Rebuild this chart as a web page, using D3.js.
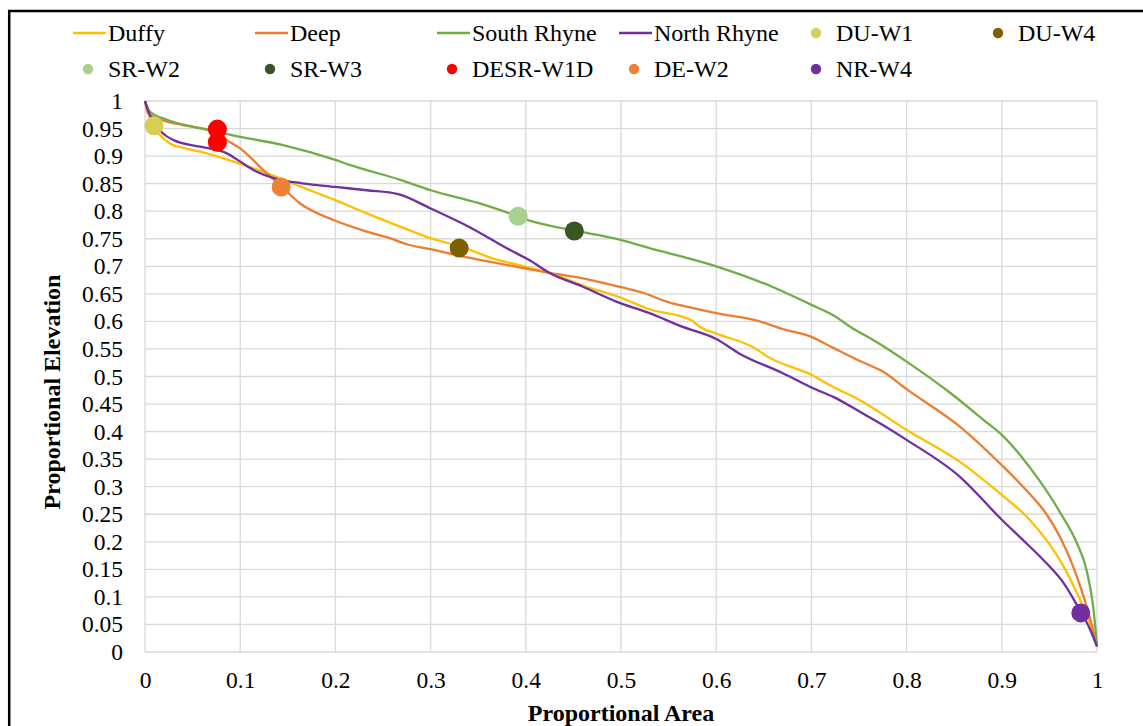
<!DOCTYPE html>
<html>
<head>
<meta charset="utf-8">
<script src="https://cdn.jsdelivr.net/npm/d3@7"></script>
<style>
  body { margin: 0; background: #fff; }
  svg { display: block; font-family: "Liberation Serif", "Times New Roman", serif; }
  .grid line { stroke: #d9d9d9; stroke-width: 1.3; }
  .tick-label { font-size: 23.5px; fill: #000; font-family: "Liberation Serif", "Times New Roman", serif; }
  .legend-text { font-size: 24px; fill: #000; }
  .axis-title { font-size: 24px; font-weight: bold; fill: #000; }
</style>
</head>
<body>
<script>
// Chart size and plot area
const CHART = {
    width: 1143,
    height: 726,
    margin: { top: 101, right: 46, bottom: 74, left: 145 }
};

// Tick values
const xTicks = [0, 0.1, 0.2, 0.3, 0.4, 0.5, 0.6, 0.7, 0.8, 0.9, 1];
const yTicks = d3.range(0, 21).map(i => +(i * 0.05).toFixed(2));

// Hypsometric curves: [proportional area, proportional elevation]
const duffy = [[0,1],[0.005,0.97],[0.016,0.938],[0.026,0.923],[0.04,0.915],[0.058,0.908],[0.093,0.89],
    [0.128,0.869],[0.163,0.845],[0.2,0.82],[0.233,0.796],[0.268,0.772],[0.3,0.751],[0.331,0.736],
    [0.366,0.714],[0.4,0.699],[0.425,0.688],[0.46,0.665],[0.5,0.643],[0.53,0.622],[0.573,0.603],
    [0.583,0.59],[0.6,0.578],[0.641,0.551],[0.653,0.537],[0.7,0.503],[0.723,0.481],[0.751,0.457],
    [0.8,0.403],[0.856,0.345],[0.9,0.285],[0.926,0.246],[0.947,0.203],[0.965,0.155],[0.979,0.107],
    [0.987,0.076],[0.996,0.034],[1,0.01]];

const deep = [[0,1],[0.003,0.978],[0.012,0.969],[0.04,0.956],[0.075,0.944],[0.086,0.929],[0.1,0.914],
    [0.11,0.899],[0.124,0.875],[0.142,0.847],[0.163,0.814],[0.198,0.784],[0.233,0.763],[0.257,0.751],
    [0.275,0.74],[0.3,0.731],[0.331,0.719],[0.366,0.707],[0.4,0.696],[0.425,0.688],[0.46,0.678],
    [0.5,0.662],[0.523,0.652],[0.548,0.636],[0.576,0.624],[0.6,0.615],[0.642,0.602],[0.67,0.586],
    [0.7,0.572],[0.723,0.552],[0.751,0.528],[0.775,0.509],[0.8,0.477],[0.856,0.409],[0.9,0.339],
    [0.926,0.293],[0.947,0.25],[0.961,0.209],[0.975,0.155],[0.986,0.1],[0.995,0.046],[1,0.01]];

const southRhyne = [[0,1],[0.005,0.981],[0.023,0.966],[0.051,0.953],[0.075,0.944],[0.1,0.935],
    [0.145,0.92],[0.2,0.893],[0.215,0.884],[0.268,0.857],[0.3,0.838],[0.35,0.815],[0.383,0.796],
    [0.404,0.783],[0.451,0.765],[0.492,0.751],[0.53,0.733],[0.6,0.7],[0.66,0.662],[0.7,0.63],
    [0.723,0.611],[0.741,0.59],[0.768,0.563],[0.8,0.527],[0.846,0.47],[0.881,0.421],[0.9,0.394],
    [0.919,0.358],[0.94,0.31],[0.961,0.254],[0.979,0.197],[0.989,0.149],[0.996,0.082],[1,0.012]];

const northRhyne = [[0,1],[0.005,0.975],[0.019,0.941],[0.03,0.929],[0.058,0.917],[0.086,0.905],
    [0.1,0.89],[0.117,0.872],[0.142,0.857],[0.163,0.851],[0.2,0.844],[0.233,0.838],[0.266,0.831],
    [0.3,0.805],[0.341,0.771],[0.383,0.73],[0.404,0.711],[0.425,0.688],[0.46,0.663],[0.495,0.636],
    [0.53,0.615],[0.565,0.59],[0.6,0.568],[0.625,0.541],[0.67,0.506],[0.7,0.48],[0.723,0.463],
    [0.751,0.436],[0.775,0.412],[0.8,0.385],[0.856,0.318],[0.9,0.24],[0.926,0.197],[0.947,0.161],
    [0.965,0.125],[0.979,0.085],[0.993,0.04],[1,0.01]];

// Well locations
const duW1 = [[0.0095, 0.955]];
const duW4 = [[0.33, 0.733]];
const srW2 = [[0.392, 0.791]];
const srW3 = [[0.451, 0.764]];
const desrW1D = [[0.076, 0.949], [0.076, 0.925]];
const deW2 = [[0.143, 0.844]];
const nrW4 = [[0.983, 0.071]];

const lineSeries = [
    { name: "Duffy", data: duffy, color: "#FFC000" },
    { name: "Deep", data: deep, color: "#ED7D31" },
    { name: "South Rhyne", data: southRhyne, color: "#70AD47" },
    { name: "North Rhyne", data: northRhyne, color: "#7030A0" }
];

const pointSeries = [
    { name: "DU-W1", data: duW1, color: "#D6CE57" },
    { name: "DU-W4", data: duW4, color: "#7F6000" },
    { name: "SR-W2", data: srW2, color: "#A9D18E" },
    { name: "SR-W3", data: srW3, color: "#375623" },
    { name: "DESR-W1D", data: desrW1D, color: "#FF0000" },
    { name: "DE-W2", data: deW2, color: "#ED8136" },
    { name: "NR-W4", data: nrW4, color: "#7030A0" }
];

const svg = d3.select("body")
    .append("svg")
    .attr("width", CHART.width)
    .attr("height", CHART.height);

// Outer frame
svg.append("rect")
    .attr("x", 9.2)
    .attr("y", 11)
    .attr("width", CHART.width + 20)
    .attr("height", CHART.height + 20)
    .attr("fill", "none")
    .attr("stroke", "#000")
    .attr("stroke-width", 2.5);

const xScale = d3.scaleLinear()
    .domain([0, 1])
    .range([CHART.margin.left, CHART.width - CHART.margin.right]);

const yScale = d3.scaleLinear()
    .domain([0, 1])
    .range([CHART.height - CHART.margin.bottom, CHART.margin.top]);

// Grid lines
const grid = svg.append("g").attr("class", "grid");

grid.selectAll(".h")
    .data(yTicks)
    .enter()
    .append("line")
    .attr("x1", xScale(0))
    .attr("x2", xScale(1))
    .attr("y1", d => yScale(d))
    .attr("y2", d => yScale(d));

grid.selectAll(".v")
    .data(xTicks)
    .enter()
    .append("line")
    .attr("x1", d => xScale(d))
    .attr("x2", d => xScale(d))
    .attr("y1", yScale(0))
    .attr("y2", yScale(1));

// Axes (labels only, Excel style)
const xAxis = d3.axisBottom(xScale)
    .tickValues(xTicks)
    .tickSize(0)
    .tickPadding(19)
    .tickFormat(d => String(d));

svg.append("g")
    .attr("transform", `translate(0,${yScale(0)})`)
    .call(xAxis)
    .attr("font-family", null)
    .attr("font-size", null)
    .call(g => g.select(".domain").remove())
    .selectAll("text")
    .attr("class", "tick-label");

const yAxis = d3.axisLeft(yScale)
    .tickValues(yTicks)
    .tickSize(0)
    .tickPadding(22)
    .tickFormat(d => String(d));

svg.append("g")
    .attr("transform", `translate(${xScale(0)},0)`)
    .call(yAxis)
    .attr("font-family", null)
    .attr("font-size", null)
    .call(g => g.select(".domain").remove())
    .selectAll("text")
    .attr("class", "tick-label");

// Axis titles
svg.append("text")
    .attr("class", "axis-title")
    .attr("x", (xScale(0) + xScale(1)) / 2)
    .attr("y", 721)
    .attr("text-anchor", "middle")
    .text("Proportional Area");

svg.append("text")
    .attr("class", "axis-title")
    .attr("transform", "rotate(-90)")
    .attr("x", -392)
    .attr("y", 60)
    .attr("text-anchor", "middle")
    .text("Proportional Elevation");

// Curves
const line = d3.line()
    .x(d => xScale(d[0]))
    .y(d => yScale(d[1]))
    .curve(d3.curveMonotoneX);

svg.selectAll(".curve")
    .data(lineSeries)
    .enter()
    .append("path")
    .attr("class", "curve")
    .attr("fill", "none")
    .attr("stroke", d => d.color)
    .attr("stroke-width", 2.3)
    .attr("d", d => line(d.data));

// Well markers
pointSeries.forEach(s => {
    svg.selectAll(null)
        .data(s.data)
        .enter()
        .append("circle")
        .attr("cx", d => xScale(d[0]))
        .attr("cy", d => yScale(d[1]))
        .attr("r", 9.5)
        .attr("fill", s.color);
});

// Legend
const legendItems = [...lineSeries.map(d => ({ ...d, type: "line" })),
    ...pointSeries.map(d => ({ ...d, type: "point" }))];

const legend = svg.append("g");
legendItems.forEach((d, i) => {
    const col = i % 6;
    const row = Math.floor(i / 6);
    const tx = 108 + col * 182;
    const ty = 33 + row * 36;
    const g = legend.append("g");
    if (d.type === "line") {
        g.append("line")
            .attr("x1", tx - 35)
            .attr("x2", tx - 2)
            .attr("y1", ty)
            .attr("y2", ty)
            .attr("stroke", d.color)
            .attr("stroke-width", 2.3);
    } else {
        g.append("circle")
            .attr("cx", tx - 20)
            .attr("cy", ty)
            .attr("r", 5.2)
            .attr("fill", d.color);
    }
    g.append("text")
        .attr("class", "legend-text")
        .attr("x", tx)
        .attr("y", ty)
        .attr("dy", "0.35em")
        .text(d.name);
});
</script>
</body>
</html>
